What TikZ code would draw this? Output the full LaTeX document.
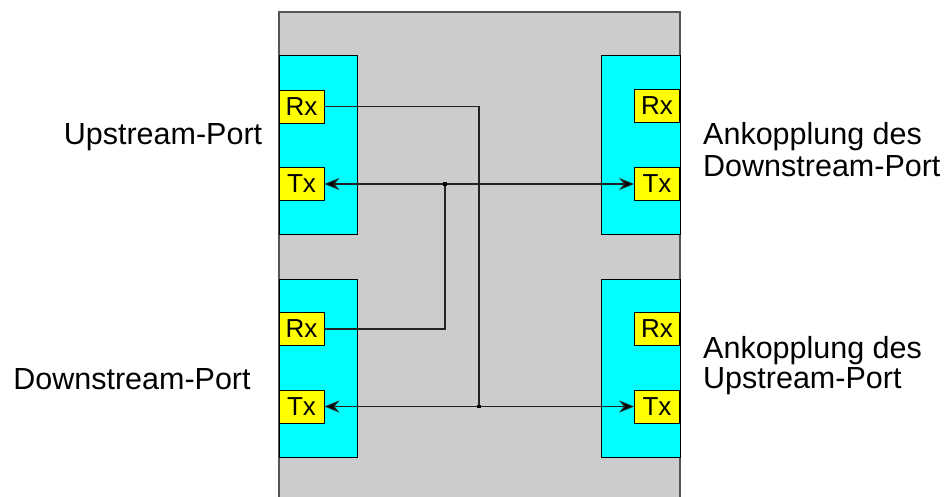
\documentclass[tikz,border=0pt]{standalone}
\usepackage{fontspec}
\setmainfont{Liberation Sans}
\usetikzlibrary{arrows.meta}
\definecolor{boxgray}{HTML}{CCCCCC}
\definecolor{edgegray}{HTML}{555555}
\definecolor{wiredark}{HTML}{222222}
\definecolor{panelcyan}{HTML}{00FFFF}
\definecolor{portyellow}{HTML}{FFFF00}
\begin{document}
\begin{tikzpicture}[x=1pt,y=-1pt,
  port/.style={draw=black, fill=portyellow, minimum width=45pt, minimum height=33pt,
    inner sep=0pt, font=\fontsize{26}{26}\selectfont, line width=0.8pt},
  panel/.style={draw=black, fill=panelcyan, line width=1pt},
  lbl/.style={font=\fontsize{30.5}{30.5}\selectfont, inner sep=0pt},
  wire/.style={line width=1.2pt, draw=wiredark},
  dotmark/.style={fill=black, minimum size=3.5pt, inner sep=0pt},
  bitip/.style={{Stealth[length=15pt,width=12pt,inset=5pt,fill=black]}-{Stealth[length=15pt,width=12pt,inset=5pt,fill=black]}}
]
\useasboundingbox (0,0) rectangle (949,497);
% gray switch body
\fill[boxgray] (279,12) rectangle (680,497);
\draw[edgegray, line width=1.2pt] (279,497) -- (279,12) -- (680,12) -- (680,497);
% cyan panels
\draw[panel] (279,56) rectangle (357,234);
\draw[panel] (279,279) rectangle (357,457);
\draw[panel] (601,56) rectangle (680,234);
\draw[panel] (601,279) rectangle (680,457);
% ports
\node[port] (lrx1) at (301.5,106.5) {Rx};
\node[port] (ltx1) at (301.5,184) {Tx};
\node[port] (lrx2) at (301.5,329) {Rx};
\node[port] (ltx2) at (301.5,406.5) {Tx};
\node[port] (rrx1) at (657,106) {Rx};
\node[port] (rtx1) at (657,184) {Tx};
\node[port] (rrx2) at (657,329) {Rx};
\node[port] (rtx2) at (657,406.5) {Tx};
% junctions
\coordinate (j1) at (445,184);
\coordinate (j2) at (479,406.5);
% wires
\draw[wire] (lrx1.east) -| (j2);
\draw[wire, bitip] (ltx1.east) -- (rtx1.west);
\draw[wire, bitip] (ltx2.east) -- (rtx2.west);
\draw[wire] (j1) |- (lrx2.east);
\node[dotmark] (d1) at (j1) {};
\node[dotmark] (d2) at (j2) {};
% labels
\node[lbl, anchor=base] (up) at (163,145) {Upstream-Port};
\node[lbl, anchor=base] (down) at (132,389) {Downstream-Port};
\node[lbl, anchor=base west] (a1) at (703,145) {Ankopplung des};
\node[lbl, anchor=base west] (a2) at (703,176) {Downstream-Port};
\node[lbl, anchor=base west] (b1) at (703,358) {Ankopplung des};
\node[lbl, anchor=base west] (b2) at (703,388) {Upstream-Port};
\end{tikzpicture}
\end{document}
